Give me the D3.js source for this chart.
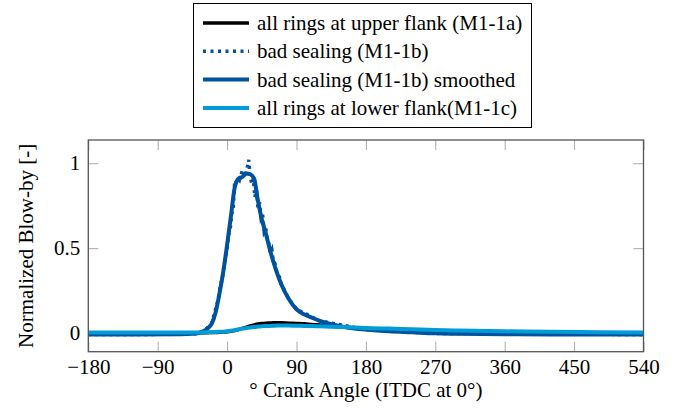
<!DOCTYPE html>
<html>
<head>
<meta charset="utf-8">
<script src="https://cdn.jsdelivr.net/npm/d3@7"></script>
</head>
<body style="margin:0">
<script>
// chart data
var angles = [-180, -120, -60, -45, -40, -30, -25, -20, -15, -10, -5, 0, 5, 10, 15, 20, 25, 30, 35, 40, 45, 50, 55, 60, 65, 70, 80, 90, 100, 110, 120, 135, 150, 165, 180, 210, 240, 270, 300, 360, 420, 480, 540];

var upperFlank = [0, 0, 0, 0.001, 0.001, 0.001, 0.002, 0.003, 0.003, 0.004, 0.006, 0.008, 0.011, 0.015, 0.021, 0.027, 0.035, 0.042, 0.048, 0.053, 0.056, 0.058, 0.059, 0.06, 0.06, 0.06, 0.058, 0.056, 0.054, 0.05, 0.047, 0.042, 0.036, 0.03, 0.024, 0.015, 0.008, 0.004, 0.002, 0, 0, 0, 0];

var smoothed = [-0.008, -0.008, -0.007, -0.005, -0.003, 0.012, 0.028, 0.055, 0.12, 0.23, 0.36, 0.52, 0.69, 0.86, 0.91, 0.92, 0.94, 0.935, 0.91, 0.78, 0.67, 0.59, 0.5, 0.42, 0.35, 0.29, 0.2, 0.14, 0.11, 0.09, 0.072, 0.052, 0.037, 0.027, 0.02, 0.01, 0.004, -0.002, -0.004, -0.007, -0.008, -0.009, -0.009];

var lowerFlank = [0.003, 0.003, 0.003, 0.003, 0.003, 0.004, 0.004, 0.005, 0.006, 0.007, 0.008, 0.01, 0.013, 0.017, 0.022, 0.026, 0.029, 0.032, 0.035, 0.038, 0.04, 0.041, 0.042, 0.043, 0.044, 0.044, 0.044, 0.043, 0.042, 0.041, 0.04, 0.037, 0.035, 0.033, 0.03, 0.026, 0.022, 0.018, 0.015, 0.01, 0.007, 0.005, 0.003];

var rawAngles = [-180, -90, -40, -30, -20, -12, -10, -8, -6, -4, -2, 0, 2, 4, 6, 8, 10, 12, 14, 16, 18, 20, 22, 24, 26, 28, 30, 32, 34, 36, 38, 40, 42, 44, 46, 48, 50, 52, 54, 56, 58, 60, 62, 64, 66, 68, 70, 80, 90, 120, 180, 270, 540];
var rawValues = [-0.008, -0.008, -0.003, 0.012, 0.055, 0.19, 0.24, 0.29, 0.33, 0.4, 0.45, 0.5, 0.58, 0.61, 0.7, 0.74, 0.9, 0.89, 0.91, 0.9, 0.93, 0.96, 0.92, 0.94, 0.97, 1.02, 0.92, 0.88, 0.91, 0.8, 0.84, 0.74, 0.77, 0.68, 0.7, 0.6, 0.62, 0.55, 0.53, 0.47, 0.49, 0.42, 0.41, 0.37, 0.34, 0.33, 0.29, 0.2, 0.14, 0.072, 0.02, -0.002, -0.009];

var xTicks = [-180, -90, 0, 90, 180, 270, 360, 450, 540];
var yTicks = [0, 0.5, 1];

var legendNames = ["all rings at upper flank (M1-1a)", "bad sealing (M1-1b)", "bad sealing (M1-1b) smoothed", "all rings at lower flank(M1-1c)"];

// layout
var svgWidth = 676;
var svgHeight = 414;
var chartMargin = { top: 140, right: 32.5, bottom: 62.3, left: 88.3 };
var chartWidth = svgWidth - chartMargin.left - chartMargin.right;
var chartHeight = svgHeight - chartMargin.top - chartMargin.bottom;

var fontName = "'Liberation Serif'";
var fontSize = 21;
var darkBlue = "#00519e";
var lightBlue = "#009cd8";

var svg = d3.select("body")
  .append("svg")
  .attr("width", svgWidth)
  .attr("height", svgHeight);

var chartGroup = svg.append("g")
  .attr("transform", `translate(${chartMargin.left}, ${chartMargin.top})`);

var xScale = d3.scaleLinear().domain([-180, 540]).range([0, chartWidth]);
var yScale = d3.scaleLinear().domain([-0.11, 1.137]).range([chartHeight, 0]);

// ticks: inward on all four sides, light grey
function styleTicks(g) {
  g.attr("font-family", fontName).attr("font-size", fontSize);
  g.select(".domain").remove();
  g.selectAll(".tick line").attr("stroke", "#aaa").attr("stroke-width", 1);
  g.selectAll(".tick text")
    .attr("fill", "#000")
    .attr("font-family", fontName)
    .attr("font-size", fontSize);
}

chartGroup.append("g")
  .attr("transform", `translate(0, ${chartHeight})`)
  .call(d3.axisBottom(xScale).tickValues(xTicks).tickSizeInner(-10).tickSizeOuter(0).tickPadding(7))
  .call(styleTicks);

chartGroup.append("g")
  .call(d3.axisTop(xScale).tickValues(xTicks).tickSizeInner(-10).tickSizeOuter(0).tickFormat(""))
  .call(styleTicks);

chartGroup.append("g")
  .call(d3.axisLeft(yScale).tickValues(yTicks).tickSizeInner(-10).tickSizeOuter(0).tickPadding(8).tickFormat(d3.format("")))
  .call(styleTicks);

chartGroup.append("g")
  .attr("transform", `translate(${chartWidth}, 0)`)
  .call(d3.axisRight(yScale).tickValues(yTicks).tickSizeInner(-10).tickSizeOuter(0).tickFormat(""))
  .call(styleTicks);

// clip
svg.append("defs").append("clipPath").attr("id", "plotClip")
  .append("rect").attr("width", chartWidth).attr("height", chartHeight);

var lineGroup = chartGroup.append("g").attr("clip-path", "url(#plotClip)");

function makeLine(xs, ys) {
  return d3.line()
    .x(function(d, i) { return xScale(xs[i]); })
    .y(function(d) { return yScale(d); })
    .curve(d3.curveMonotoneX)(ys);
}

lineGroup.append("path")
  .attr("d", makeLine(angles, upperFlank))
  .attr("fill", "none").attr("stroke", "#000").attr("stroke-width", 3.5);

lineGroup.append("path")
  .attr("d", d3.line()
    .x(function(d, i) { return xScale(rawAngles[i]); })
    .y(function(d) { return yScale(d); })
    .curve(d3.curveLinear)(rawValues))
  .attr("fill", "none").attr("stroke", darkBlue).attr("stroke-width", 3.5)
  .attr("stroke-dasharray", "3,4");

lineGroup.append("path")
  .attr("d", makeLine(angles, smoothed))
  .attr("fill", "none").attr("stroke", darkBlue).attr("stroke-width", 4);

lineGroup.append("path")
  .attr("d", makeLine(angles, lowerFlank))
  .attr("fill", "none").attr("stroke", lightBlue).attr("stroke-width", 4);

// frame
chartGroup.append("rect")
  .attr("width", chartWidth).attr("height", chartHeight)
  .attr("fill", "none").attr("stroke", "#555").attr("stroke-width", 1.3);

// axis labels
svg.append("text")
  .attr("x", chartMargin.left + chartWidth / 2)
  .attr("y", 397)
  .attr("text-anchor", "middle")
  .attr("font-family", fontName)
  .attr("font-size", fontSize)
  .text("° Crank Angle (ITDC at 0°)");

svg.append("text")
  .attr("transform", `translate(33, ${chartMargin.top + chartHeight / 2}) rotate(-90)`)
  .attr("text-anchor", "middle")
  .attr("font-family", fontName)
  .attr("font-size", fontSize)
  .text("Normalized Blow-by [-]");

// legend
var legend = svg.append("g");
legend.append("rect")
  .attr("x", 193.5).attr("y", 3.5).attr("width", 338).attr("height", 124)
  .attr("fill", "#fff").attr("stroke", "#000").attr("stroke-width", 1);

var legendStyles = [
  { color: "#000", width: 3.5, dash: null },
  { color: darkBlue, width: 3.5, dash: "3,4.5" },
  { color: darkBlue, width: 4, dash: null },
  { color: lightBlue, width: 4, dash: null }
];

legendNames.forEach(function(name, i) {
  var cy = 23 + i * 28.3;
  legend.append("line")
    .attr("x1", 203).attr("x2", 249).attr("y1", cy).attr("y2", cy)
    .attr("stroke", legendStyles[i].color)
    .attr("stroke-width", legendStyles[i].width)
    .attr("stroke-dasharray", legendStyles[i].dash);
  legend.append("text")
    .attr("x", 257).attr("y", cy + 7)
    .attr("font-family", fontName)
    .attr("font-size", fontSize)
    .text(name);
});
</script>
</body>
</html>
